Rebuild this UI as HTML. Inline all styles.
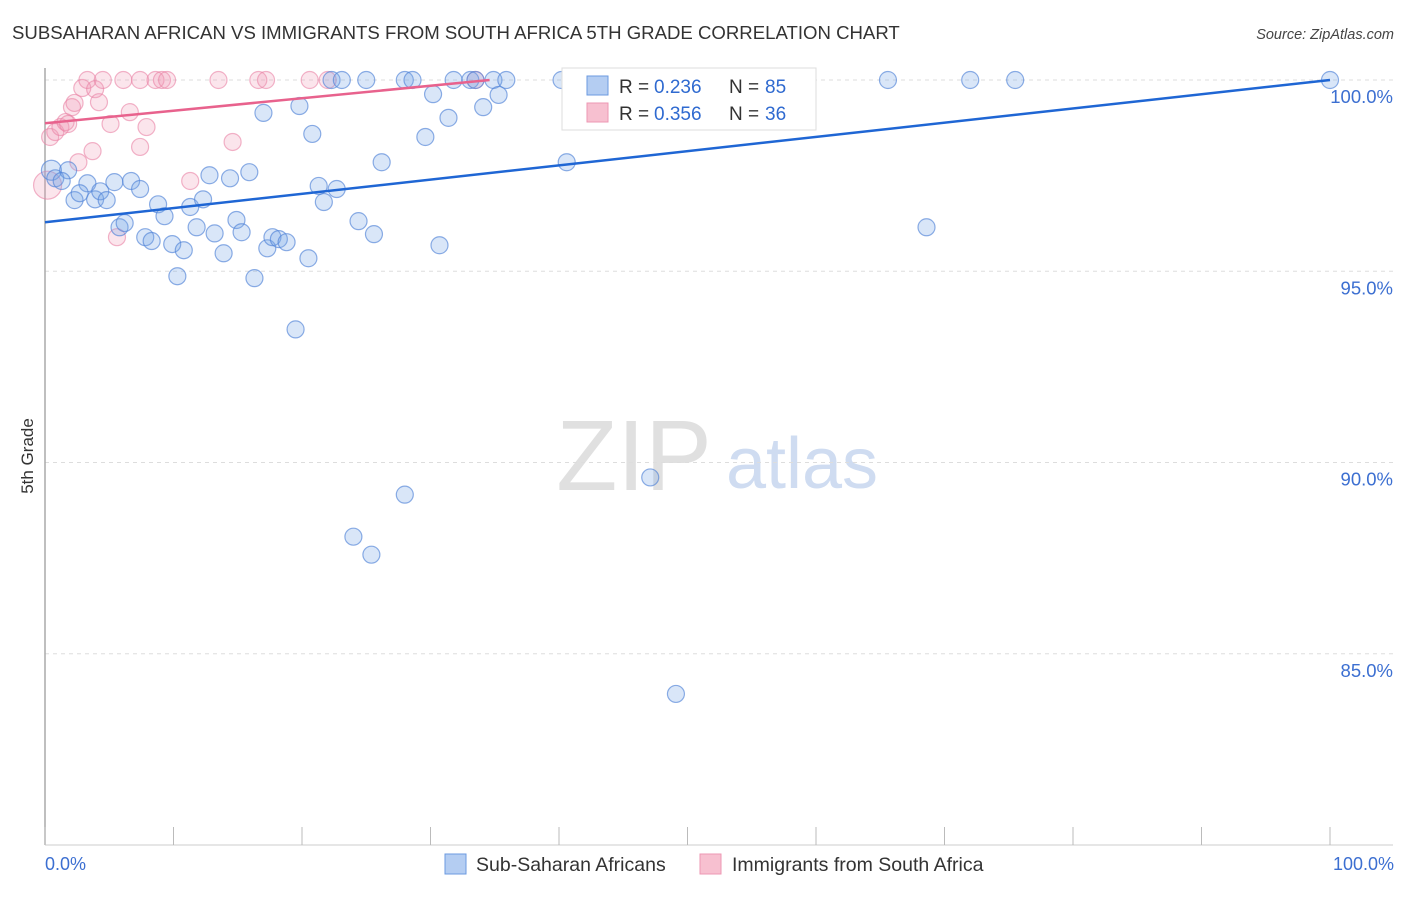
<!DOCTYPE html>
<html><head><meta charset="utf-8"><style>
body{margin:0;background:#fff;font-family:"Liberation Sans",sans-serif;}
svg text{font-family:"Liberation Sans",sans-serif;}
</style></head><body>
<svg id="chart" width="1406" height="892" viewBox="0 0 1406 892" xmlns="http://www.w3.org/2000/svg">
<text x="12" y="39" font-size="18.6" fill="#333">SUBSAHARAN AFRICAN VS IMMIGRANTS FROM SOUTH AFRICA 5TH GRADE CORRELATION CHART</text>
<text x="1394" y="39" font-size="14.5" fill="#444" text-anchor="end" font-style="italic">Source: ZipAtlas.com</text>
<g>
<text x="634" y="490" font-size="100" fill="#e0e0e0" text-anchor="middle" font-family="Liberation Serif,serif">ZIP</text>
<text x="802" y="488" font-size="72" fill="#cfdcf1" text-anchor="middle">atlas</text>
</g>
<g id="grid"></g>
<line x1="45" y1="68" x2="45" y2="845" stroke="#aaa" stroke-width="1.5"/>
<line x1="45" y1="845" x2="1393" y2="845" stroke="#ccc" stroke-width="1"/>
<g id="xticks"></g>
<text transform="translate(33,456) rotate(-90)" font-size="17" fill="#333" text-anchor="middle">5th Grade</text>
<text x="45" y="870" font-size="18" fill="#3c6fd1">0.0%</text>
<text x="1394" y="870" font-size="18" fill="#3c6fd1" text-anchor="end">100.0%</text>
<g id="points"></g>
<g id="lines"></g>
<g>
<rect x="562" y="68" width="254" height="62" fill="#fff" stroke="#ddd"/>
<rect x="587" y="76" width="21" height="19" fill="#b4cdf2" stroke="#6b9ae0"/>
<text x="619" y="93" font-size="19" fill="#333">R =</text>
<text x="654" y="93" font-size="19" fill="#2f6ad0">0.236</text>
<text x="729" y="93" font-size="19" fill="#333">N =</text>
<text x="765" y="93" font-size="19" fill="#2f6ad0">85</text>
<rect x="587" y="103" width="21" height="19" fill="#f7c0d0" stroke="#ee97b3"/>
<text x="619" y="120" font-size="19" fill="#333">R =</text>
<text x="654" y="120" font-size="19" fill="#2f6ad0">0.356</text>
<text x="729" y="120" font-size="19" fill="#333">N =</text>
<text x="765" y="120" font-size="19" fill="#2f6ad0">36</text>
</g>
<g>
<rect x="445" y="854" width="21" height="20" fill="#b4cdf2" stroke="#6b9ae0"/>
<text x="476" y="871" font-size="19.5" fill="#333">Sub-Saharan Africans</text>
<rect x="700" y="854" width="21" height="20" fill="#f7c0d0" stroke="#ee97b3"/>
<text x="732" y="871" font-size="19.5" fill="#333">Immigrants from South Africa</text>
</g>
</svg>
<script>
const yTicks=[100,95,90,85];
const yTickLabels=["100.0%","95.0%","90.0%","85.0%"];
const xTicks=[0,10,20,30,40,50,60,70,80,90,100];
const blueX=[0.5,0.8,1.8,1.3,2.3,3.3,2.7,3.9,4.3,4.8,5.4,5.8,6.2,6.7,7.4,7.8,8.3,8.8,9.3,9.9,10.3,10.8,11.3,11.8,12.3,12.8,13.2,13.9,14.4,14.9,15.3,15.9,16.3,17.0,17.3,17.7,18.2,18.8,19.5,19.8,20.5,20.8,21.3,21.7,22.7,22.3,23.1,24.4,25.0,25.6,26.2,24.0,25.4,28.0,28.0,28.6,29.6,30.2,30.7,31.4,31.8,33.1,33.5,34.1,34.9,35.3,35.9,40.2,40.6,41.7,47.1,49.1,65.6,68.6,72.0,75.5,100];
const blueY=[97.64,97.43,97.64,97.36,96.86,97.30,97.04,96.88,97.09,96.86,97.33,96.15,96.26,97.36,97.15,95.89,95.79,96.75,96.44,95.71,94.87,95.55,96.68,96.15,96.88,97.51,95.99,95.47,97.43,96.34,96.02,97.59,94.82,99.14,95.60,95.89,95.84,95.76,93.48,99.32,95.34,98.59,97.23,96.81,97.15,100,100,96.31,100,95.97,97.85,88.06,87.59,89.16,100,100,98.51,99.63,95.68,99.01,100,100,100,99.29,100,99.61,100,100,97.85,99.14,89.61,83.95,100,96.15,100,100,100];
const pinkX=[0.2,0.4,0.8,1.2,1.6,1.8,2.1,2.3,2.6,2.9,3.3,3.7,3.9,4.2,4.5,5.1,5.6,6.1,6.6,7.4,7.4,7.9,8.6,9.1,9.5,11.3,13.5,14.6,16.6,17.2,20.6,22.0,33.5,52.4];
const pinkY=[97.25,98.51,98.64,98.77,98.9,98.85,99.29,99.4,97.85,99.79,100,98.14,99.76,99.42,100,98.85,95.89,100,99.16,100,98.25,98.77,100,100,100,97.36,100,98.38,100,100,100,100,100,100];
const blueTrend=[0,96.28,100,100];
const pinkTrend=[0,98.87,34.6,100];
const xs=v=>45+v*12.85;
const ys=v=>80+(100-v)*38.25;
const NS="http://www.w3.org/2000/svg";
function mk(tag,attrs,parent){const e=document.createElementNS(NS,tag);for(const k in attrs)e.setAttribute(k,attrs[k]);document.getElementById(parent).appendChild(e);return e;}
yTicks.forEach((t,i)=>{
 const l=mk('line',{x1:45,x2:1393,y1:ys(t),y2:ys(t),stroke:'#ddd','stroke-dasharray':'4,4'},'grid');
 
 
 const tx=mk('text',{x:1393,y:ys(t)+23,'font-size':18.5,fill:'#3c6fd1','text-anchor':'end'},'grid');
 tx.textContent=yTickLabels[i];
 
 
});
xTicks.forEach(t=>{
 const l=mk('line',{x1:xs(t),x2:xs(t),y1:827,y2:845,stroke:'#bbb'},'xticks');
 
 
});
pinkX.forEach((x,i)=>{
 const c=mk('circle',{cx:xs(x),cy:ys(pinkY[i]),r:i===0?14:8.5,fill:'rgba(240,150,180,0.25)',stroke:'rgba(234,130,165,0.6)','stroke-width':1.2},'points');
 
 
});
blueX.forEach((x,i)=>{
 const c=mk('circle',{cx:xs(x),cy:ys(blueY[i]),r:i===0?10:8.5,fill:'rgba(120,165,230,0.28)',stroke:'rgba(80,130,215,0.65)','stroke-width':1.2},'points');
 
 
});
const bl=mk('line',{x1:xs(blueTrend[0]),y1:ys(blueTrend[1]),x2:xs(blueTrend[2]),y2:ys(blueTrend[3]),stroke:'#1f66d4','stroke-width':2.5},'lines');


const pl=mk('line',{x1:xs(pinkTrend[0]),y1:ys(pinkTrend[1]),x2:xs(pinkTrend[2]),y2:ys(pinkTrend[3]),stroke:'#e8628d','stroke-width':2.5},'lines');


</script>
</body></html>
